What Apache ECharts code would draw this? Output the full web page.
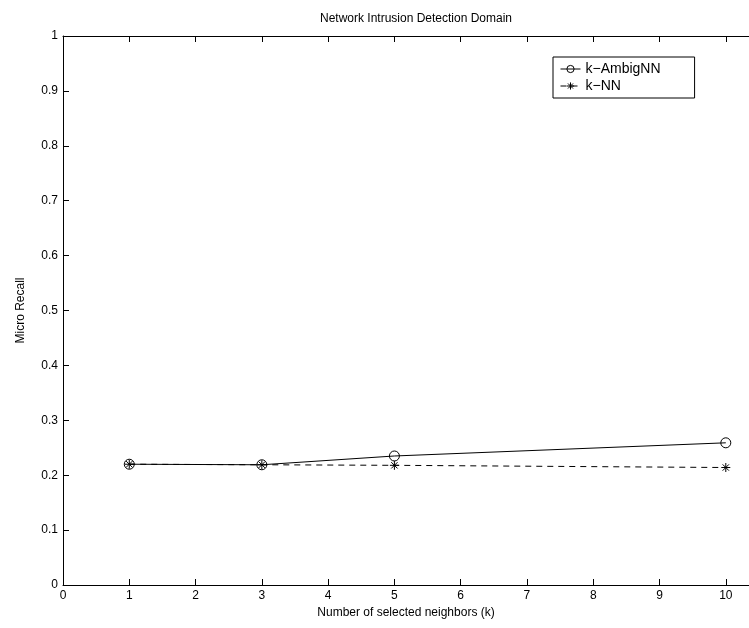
<!DOCTYPE html>
<html>
<head>
<meta charset="utf-8">
<script src="https://cdn.jsdelivr.net/npm/echarts@6/dist/echarts.min.js"></script>
<style>
html,body{margin:0;padding:0;background:#fff;}
#c{width:749px;height:628px;}
</style>
</head>
<body>
<div id="c"></div>
<script>
var kValues = [1, 3, 5, 10];
var ambigRecall = [0.22, 0.219, 0.235, 0.259];
var knnRecall = [0.22, 0.219, 0.218, 0.214];
var xTicks = [0, 1, 2, 3, 4, 5, 6, 7, 8, 9, 10];
var seriesNames = ['k\u2212AmbigNN', 'k\u2212NN'];
var titleText = 'Network Intrusion Detection Domain';
var xLabel = 'Number of selected neighbors (k)';
var yLabel = 'Micro Recall';

var FONT = '"Liberation Sans", Arial, sans-serif';
var star = 'path://M0,-10L0,10M-10,0L10,0M-7,-7L7,7M-7,7L7,-7';

function pairs(xs, ys) { return xs.map(function (x, i) { return [x, ys[i]]; }); }

var chart = echarts.init(document.getElementById('c'), null, {renderer: 'canvas'});
var axisCommon = {
  type: 'value', min: 0, max: 10.35, interval: 1,
  axisLine: {show: true, onZero: false, lineStyle: {color: '#000', width: 1}},
  axisTick: {show: true, inside: true, length: 6, customValues: xTicks, lineStyle: {color: '#000'}},
  splitLine: {show: false}
};
chart.setOption({
  animation: false,
  backgroundColor: '#fff',
  title: {
    text: titleText, left: 411, top: 8, textAlign: 'center',
    textStyle: {fontFamily: FONT, fontSize: 12, fontWeight: 'normal', color: '#000'}
  },
  grid: {left: 63, top: 36, width: 686, height: 549, containLabel: false},
  legend: {
    orient: 'vertical', left: 553, top: 57,
    data: seriesNames,
    borderColor: '#000', borderWidth: 1, padding: [5, 34, 5, 7],
    itemWidth: 20, itemHeight: 9, itemGap: 3,
    lineStyle: {width: 1},
    itemStyle: {borderWidth: 1},
    textStyle: {fontFamily: FONT, fontSize: 14, color: '#000', padding: [0, 0, 0, 0]},
    backgroundColor: '#fff'
  },
  xAxis: [
    Object.assign({}, axisCommon, {
      position: 'bottom',
      name: xLabel, nameLocation: 'middle', nameGap: 22,
      nameTextStyle: {fontFamily: FONT, fontSize: 12, color: '#000'},
      axisLabel: {
        show: true, color: '#000', fontFamily: FONT, fontSize: 12, margin: 5,
        customValues: xTicks,
        formatter: function (v) { return Number.isInteger(v) ? String(v) : ''; }
      }
    }),
    Object.assign({}, axisCommon, {
      position: 'top',
      axisLabel: {show: false}
    })
  ],
  yAxis: {
    type: 'value', min: 0, max: 1, interval: 0.1,
    axisLine: {show: true, lineStyle: {color: '#000', width: 1}},
    axisTick: {show: true, inside: true, length: 6, lineStyle: {color: '#000'}},
    splitLine: {show: false},
    name: yLabel, nameLocation: 'middle', nameGap: 36, nameRotate: 90,
    nameTextStyle: {fontFamily: FONT, fontSize: 12, color: '#000'},
    axisLabel: {
      color: '#000', fontFamily: FONT, fontSize: 12, margin: 5,
      formatter: function (v) { return String(Math.round(v * 10) / 10); }
    }
  },
  series: [
    {
      name: seriesNames[0], type: 'line', xAxisIndex: 0,
      data: pairs(kValues, ambigRecall),
      symbol: 'circle', symbolSize: 10,
      lineStyle: {color: '#000', width: 1, type: 'solid'},
      itemStyle: {color: 'rgba(255,255,255,0)', borderColor: '#000', borderWidth: 1},
      z: 3
    },
    {
      name: seriesNames[1], type: 'line', xAxisIndex: 0,
      data: pairs(kValues, knnRecall),
      symbol: star, symbolSize: 9,
      lineStyle: {color: '#000', width: 1, type: [6, 5]},
      itemStyle: {color: 'none', borderColor: '#000', borderWidth: 1},
      z: 4
    }
  ]
});
</script>
</body>
</html>
